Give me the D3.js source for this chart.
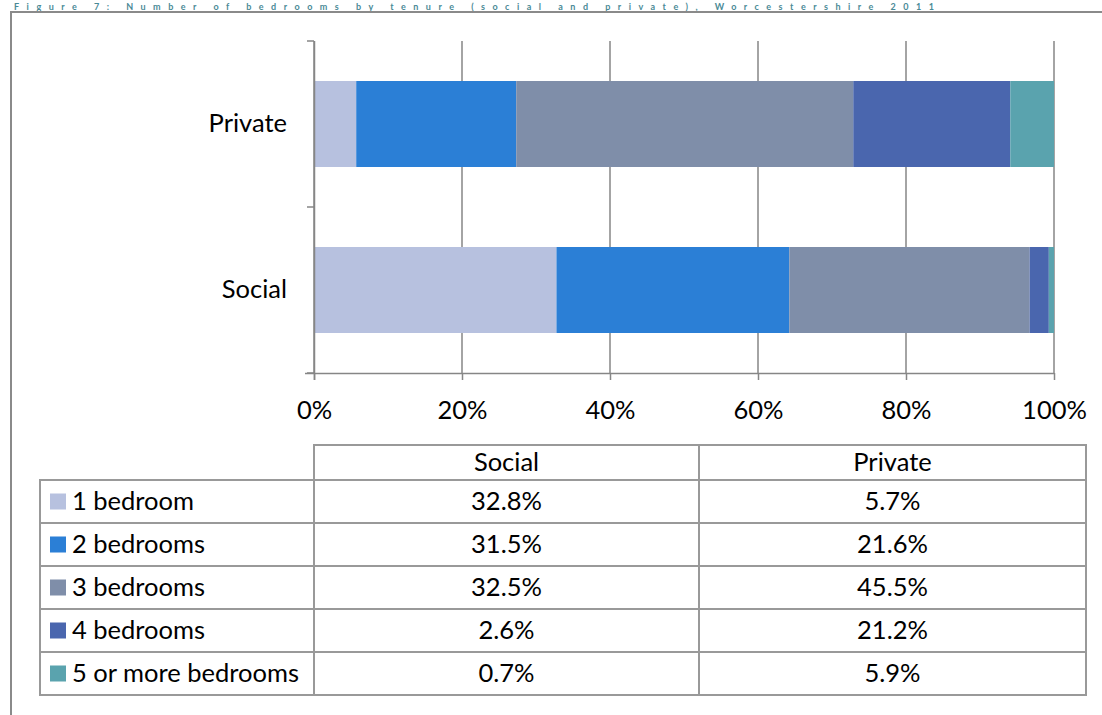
<!DOCTYPE html>
<html>
<head>
<meta charset="utf-8">
<script src="https://cdn.jsdelivr.net/npm/d3@7"></script>
<style>
  html, body { margin: 0; padding: 0; background: #fff; }
  svg { display: block; font-family: Lato, "Open Sans", sans-serif; }
</style>
</head>
<body>
<svg id="chart" width="1102" height="715"></svg>
<script>
const tenures = ["Private", "Social"];
const tableColumns = ["Social", "Private"];
const bedrooms = ["1 bedroom", "2 bedrooms", "3 bedrooms", "4 bedrooms", "5 or more bedrooms"];
const socialValues = [32.8, 31.5, 32.5, 2.6, 0.7];
const privateValues = [5.7, 21.6, 45.5, 21.2, 5.9];
const colors = ["#b7c1df", "#2b7fd6", "#7f8ea9", "#4a66ae", "#5aa3ae"];
const xTicks = [0, 0.2, 0.4, 0.6, 0.8, 1];
const titleText = "Figure 7: Number of bedrooms by tenure (social and private), Worcestershire 2011";

const svg = d3.select("#chart");
const axisColor = "#868686";
const FS = 25.5;

// title (cut off at the top in the reference; kept small and visible here)
svg.append("text").attr("x", 14).attr("y", 10)
  .attr("fill", "#4a8a96").attr("font-weight", "bold").attr("font-size", 9)
  .attr("textLength", 920).attr("lengthAdjust", "spacing")
  .text(titleText);

// outer frame
svg.append("path").attr("d", "M11,730 V12 H1120")
  .attr("fill", "none").attr("stroke", "#8a8a8a").attr("stroke-width", 2);

const x = d3.scaleLinear().domain([0, 1]).range([314, 1054]);
const y = d3.scaleBand().domain(tenures).range([41, 373]).paddingInner(0.482).paddingOuter(0.241);

// gridlines
svg.append("g").selectAll("line").data(xTicks).join("line")
  .attr("x1", d => x(d)).attr("x2", d => x(d))
  .attr("y1", 41).attr("y2", 373)
  .attr("stroke", axisColor).attr("stroke-width", 1.5);

// data rows per tenure
const rows = tenures.map(t => {
  const vals = t === "Social" ? socialValues : privateValues;
  const o = { tenure: t };
  bedrooms.forEach((b, i) => o[b] = vals[i]);
  return o;
});
const stack = d3.stack().keys(bedrooms).offset(d3.stackOffsetExpand);
const series = stack(rows);

svg.append("g").selectAll("g").data(series).join("g")
  .attr("fill", (d, i) => colors[i])
  .selectAll("rect").data(d => d).join("rect")
  .attr("x", d => x(d[0]))
  .attr("width", d => x(d[1]) - x(d[0]))
  .attr("y", d => y(d.data.tenure))
  .attr("height", y.bandwidth());

// x axis
const xAxis = svg.append("g").attr("transform", "translate(0,373)")
  .call(d3.axisBottom(x).tickValues(xTicks).tickFormat(d3.format(".0%")).tickSize(7).tickSizeOuter(0));
xAxis.select(".domain").attr("d", "M305,0.5H1054").attr("stroke", axisColor).attr("stroke-width", 1.5);
xAxis.selectAll(".tick line").attr("stroke", axisColor).attr("stroke-width", 1.5);
xAxis.selectAll(".tick text").attr("y", 37).attr("dy", "0.35em")
  .attr("font-family", "Lato, sans-serif").attr("font-size", FS).attr("fill", "#000");

// y axis
const yAxis = svg.append("g").attr("transform", "translate(314,0)")
  .call(d3.axisLeft(y).tickSize(0).tickSizeOuter(0));
yAxis.select(".domain").attr("d", "M0.5,41V380").attr("stroke", axisColor).attr("stroke-width", 1.5);
yAxis.selectAll(".tick text").attr("x", -27)
  .attr("font-family", "Lato, sans-serif").attr("font-size", FS).attr("fill", "#000");
const bounds = [41, 41 + y.step(), 373];
yAxis.selectAll(".bnd").data(bounds).join("line").attr("class", "bnd")
  .attr("x1", -7).attr("x2", 0).attr("y1", d => d).attr("y2", d => d)
  .attr("stroke", axisColor).attr("stroke-width", 1.5);

// data table
const tblLeft = 40, tblCol1 = 314, tblCol2 = 699, tblRight = 1086;
const headTop = 445, bodyTop = 480, rowH = 43;
const tColX = d3.scaleOrdinal().domain(tableColumns).range([(tblCol1 + tblCol2) / 2, (tblCol2 + tblRight) / 2]);
const tRowY = d3.scaleBand().domain(bedrooms).range([bodyTop, bodyTop + rowH * bedrooms.length]);
const tbl = svg.append("g").attr("stroke", "#999").attr("stroke-width", 2).attr("fill", "none");
tbl.append("rect").attr("x", tblCol1).attr("y", headTop).attr("width", tblRight - tblCol1).attr("height", bodyTop - headTop);
tbl.append("rect").attr("x", tblLeft).attr("y", bodyTop).attr("width", tblRight - tblLeft).attr("height", rowH * bedrooms.length);
tbl.selectAll(".hl").data(bedrooms.slice(1)).join("line").attr("class", "hl")
  .attr("x1", tblLeft).attr("x2", tblRight).attr("y1", d => tRowY(d)).attr("y2", d => tRowY(d));
tbl.append("line").attr("x1", tblCol1).attr("x2", tblCol1).attr("y1", headTop).attr("y2", bodyTop + rowH * bedrooms.length);
tbl.append("line").attr("x1", tblCol2).attr("x2", tblCol2).attr("y1", headTop).attr("y2", bodyTop + rowH * bedrooms.length);

const txt = svg.append("g").attr("font-size", FS).attr("fill", "#000").attr("font-family", "Lato, sans-serif");
txt.selectAll(".hd").data(tableColumns).join("text").attr("class", "hd")
  .attr("x", d => tColX(d)).attr("y", (headTop + bodyTop) / 2).attr("dy", "0.35em")
  .attr("text-anchor", "middle").text(d => d);
bedrooms.forEach((b, i) => {
  const cy = tRowY(b) + rowH / 2;
  svg.append("rect").attr("x", 50).attr("y", cy - 8).attr("width", 16).attr("height", 16).attr("fill", colors[i]);
  txt.append("text").attr("x", 72).attr("y", cy).attr("dy", "0.35em").text(b);
  txt.append("text").attr("x", tColX("Social")).attr("y", cy).attr("dy", "0.35em")
    .attr("text-anchor", "middle").text(socialValues[i].toFixed(1) + "%");
  txt.append("text").attr("x", tColX("Private")).attr("y", cy).attr("dy", "0.35em")
    .attr("text-anchor", "middle").text(privateValues[i].toFixed(1) + "%");
});
</script>
</body>
</html>
